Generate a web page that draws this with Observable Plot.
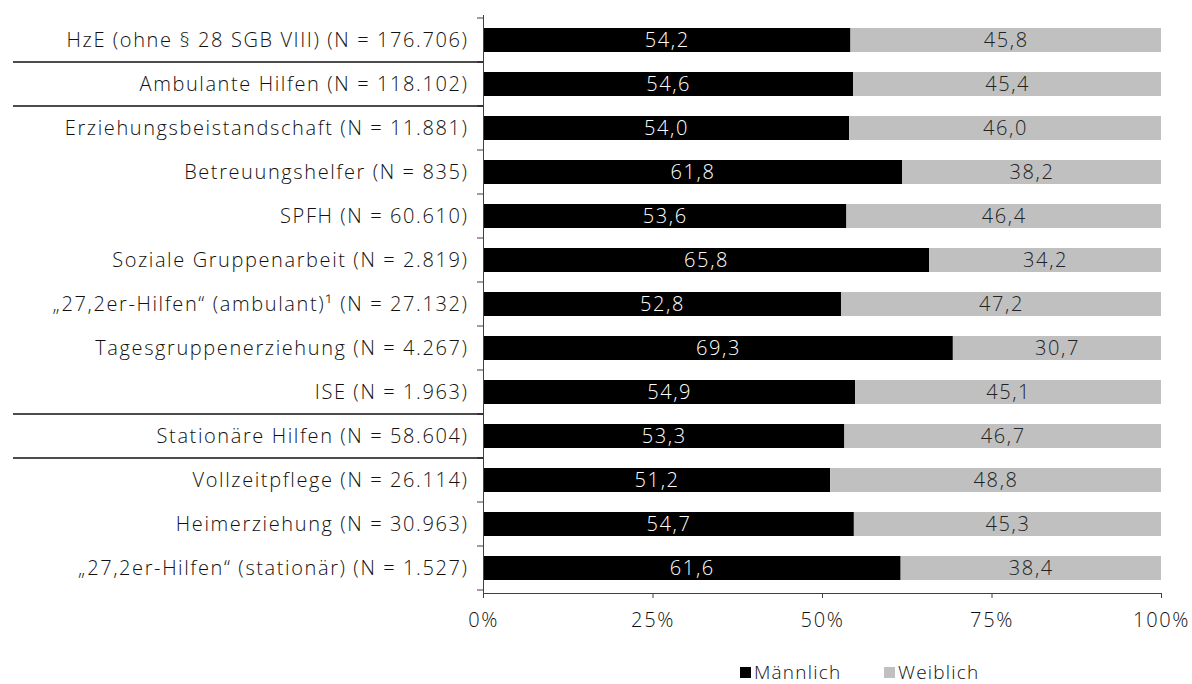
<!DOCTYPE html>
<html><head><meta charset="utf-8">
<script src="https://cdn.jsdelivr.net/npm/d3@7"></script>
<script src="https://cdn.jsdelivr.net/npm/@observablehq/plot@0.6"></script>
<style>
body{margin:0;background:#fff;font-family:"Open Sans",sans-serif;}
#wrap{position:relative;width:1192px;height:684px;overflow:hidden;}
#wrap svg text{font-weight:300;letter-spacing:1.6px;}
.leg{position:absolute;top:662px;font-size:19px;font-weight:300;letter-spacing:1.2px;color:#111;display:flex;align-items:center;line-height:21px;}
.leg span.sw{display:inline-block;width:11px;height:11px;margin-right:3px;}
</style></head>
<body><div id="wrap"></div>
<script>
const categories = [
  "HzE (ohne § 28 SGB VIII) (N = 176.706)",
  "Ambulante Hilfen (N = 118.102)",
  "Erziehungsbeistandschaft (N = 11.881)",
  "Betreuungshelfer (N = 835)",
  "SPFH (N = 60.610)",
  "Soziale Gruppenarbeit (N = 2.819)",
  "„27,2er-Hilfen“ (ambulant)¹ (N = 27.132)",
  "Tagesgruppenerziehung (N = 4.267)",
  "ISE (N = 1.963)",
  "Stationäre Hilfen (N = 58.604)",
  "Vollzeitpflege (N = 26.114)",
  "Heimerziehung (N = 30.963)",
  "„27,2er-Hilfen“ (stationär) (N = 1.527)"
];
const maennlich = [54.2,54.6,54.0,61.8,53.6,65.8,52.8,69.3,54.9,53.3,51.2,54.7,61.6];
const weiblich  = [45.8,45.4,46.0,38.2,46.4,34.2,47.2,30.7,45.1,46.7,48.8,45.3,38.4];
const seriesNames = ["Männlich","Weiblich"];
const seriesColors = ["#000000","#c0c0c0"];
const labelColors = ["#ffffff","#222222"];
const xTicks = [0,25,50,75,100];
const separatorsAfter = [ "HzE (ohne § 28 SGB VIII) (N = 176.706)", "Ambulante Hilfen (N = 118.102)", "ISE (N = 1.963)", "Stationäre Hilfen (N = 58.604)"];

const data = [];
categories.forEach((c,i)=>{
  data.push({cat:c, sex:seriesNames[0], x1:0, x2:maennlich[i], v:maennlich[i]});
  data.push({cat:c, sex:seriesNames[1], x1:maennlich[i], x2:maennlich[i]+weiblich[i], v:weiblich[i]});
});
const fmt = v => v.toFixed(1).replace(".", ",");

const plot = Plot.plot({
  width:1192, height:640,
  marginLeft:483, marginRight:31, marginTop:15, marginBottom:47,
  style:{fontFamily:"'Open Sans', sans-serif", fontSize:"20px", color:"#111", background:"#fff"},
  x:{domain:[0,100], ticks:xTicks, tickFormat:d=>d+"%"},
  y:{domain:categories, paddingInner:0.46, paddingOuter:0.23},
  color:{domain:seriesNames, range:seriesColors},
  marks:[
    Plot.barX(data,{x1:"x1", x2:"x2", y:"cat", fill:"sex"}),
    Plot.text(data,{x:d=>(d.x1+d.x2)/2, y:"cat", text:d=>fmt(d.v), fill:d=>labelColors[seriesNames.indexOf(d.sex)], fontSize:20}),
    Plot.axisX({ticks:xTicks, tickFormat:d=>d+"%", tickSize:5, tickPadding:14, stroke:"#404040", fontSize:20, label:null}),
    Plot.axisY({tickSize:0, tickPadding:15, fontSize:20, label:null}),
    Plot.frame({anchor:"left", stroke:"#404040"}),
    Plot.frame({anchor:"bottom", stroke:"#404040"})
  ]
});

const ys = plot.scale("y");
const step = ys.step, bw = ys.bandwidth;
const svg = d3.select(plot);
const g = svg.append("g");
const x0 = plot.scale("x").apply(0);
const bounds = categories.map(c => ys.apply(c) - (step-bw)/2);
bounds.push(ys.apply(categories[categories.length-1]) + bw + (step-bw)/2);
bounds.forEach(b=>{
  g.append("line").attr("x1",x0-6).attr("x2",x0).attr("y1",b).attr("y2",b).attr("stroke","#404040");
});
separatorsAfter.forEach(c=>{
  const b = ys.apply(c) + bw + (step-bw)/2;
  g.append("line").attr("x1",13).attr("x2",x0).attr("y1",b).attr("y2",b).attr("stroke","#111").attr("stroke-width",1.5);
});

const wrap = document.getElementById("wrap");
wrap.appendChild(plot);
const legX = [740, 884];
seriesNames.forEach((s,i)=>{
  const d = document.createElement("div");
  d.className="leg"; d.style.left=legX[i]+"px";
  d.innerHTML = `<span class="sw" style="background:${seriesColors[i]}"></span>${s}`;
  wrap.appendChild(d);
});
</script></body></html>
